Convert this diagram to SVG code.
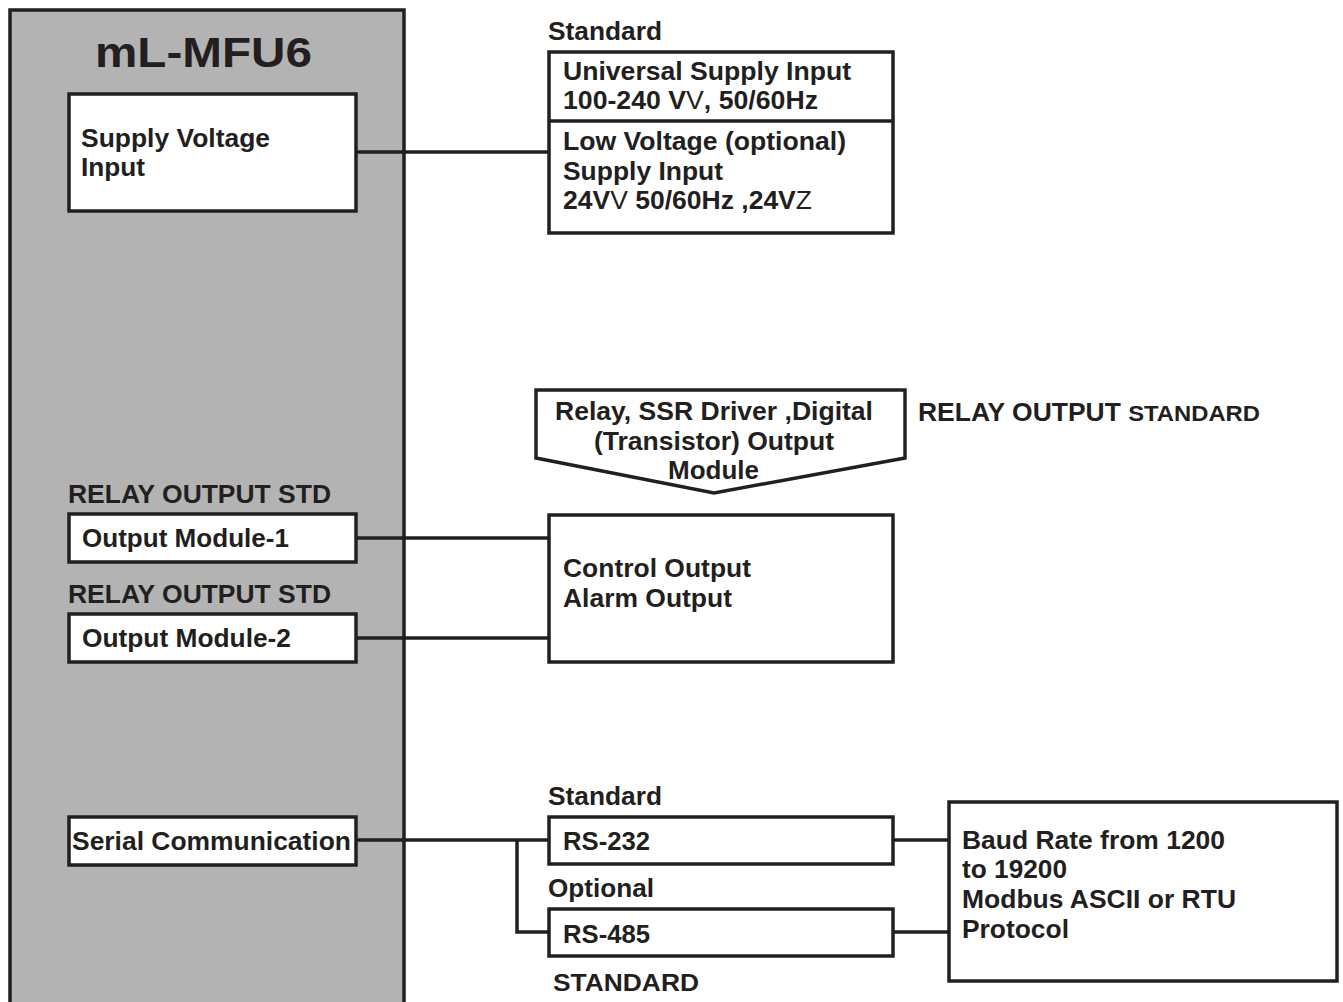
<svg xmlns="http://www.w3.org/2000/svg" width="1343" height="1002" viewBox="0 0 1343 1002">
<style>
.t{font-family:"Liberation Sans",Arial,Helvetica,sans-serif;font-weight:bold;font-size:25px;fill:#231f20}
.th{font-weight:normal}
.box{fill:#fff;stroke:#231f20;stroke-width:3.5}
.ln{fill:none;stroke:#231f20;stroke-width:3.5}
</style>
<rect width="1343" height="1002" fill="#fff"/>
<g id="device">
<rect x="10" y="10" width="394" height="1010" fill="#b3b3b3" stroke="#231f20" stroke-width="3.5"/>
<text class="t" x="95" y="67" style="font-size:43px" textLength="217" lengthAdjust="spacingAndGlyphs">mL-MFU6</text>
</g>
<g id="connectors">
<path class="ln" d="M356 152H549"/>
<path class="ln" d="M356 538H549"/>
<path class="ln" d="M356 638H549"/>
<path class="ln" d="M357 840H549M517 840V932H549"/>
<path class="ln" d="M893 840H949M893 932H949"/>
</g>
<g id="supply-voltage">
<rect class="box" x="69" y="94" width="287" height="117"/>
<text class="t" x="81" y="147" textLength="189" lengthAdjust="spacingAndGlyphs">Supply Voltage</text>
<text class="t" x="81" y="176" textLength="64" lengthAdjust="spacingAndGlyphs">Input</text>
</g>
<g id="supply-options">
<text class="t" x="548" y="40" textLength="114" lengthAdjust="spacingAndGlyphs">Standard</text>
<rect class="box" x="549" y="52" width="344" height="181"/>
<path class="ln" d="M549 121H893"/>
<text class="t" x="563" y="80" textLength="288" lengthAdjust="spacingAndGlyphs">Universal Supply Input</text>
<text class="t" x="563" y="109" textLength="255" lengthAdjust="spacingAndGlyphs">100-240 V<tspan class="th">V</tspan>, 50/60Hz</text>
<text class="t" x="563" y="150" textLength="283" lengthAdjust="spacingAndGlyphs">Low Voltage (optional)</text>
<text class="t" x="563" y="180" textLength="160" lengthAdjust="spacingAndGlyphs">Supply Input</text>
<text class="t" x="563" y="209" textLength="249" lengthAdjust="spacingAndGlyphs">24V<tspan class="th">V</tspan> 50/60Hz ,24V<tspan class="th">Z</tspan></text>
</g>
<g id="output-module-type">
<polygon class="box" points="536,390 905,390 905,458 714,493 536,458"/>
<text class="t" x="555" y="420" textLength="318" lengthAdjust="spacingAndGlyphs">Relay, SSR Driver ,Digital</text>
<text class="t" x="594" y="450" textLength="240" lengthAdjust="spacingAndGlyphs">(Transistor) Output</text>
<text class="t" x="668" y="479" textLength="91" lengthAdjust="spacingAndGlyphs">Module</text>
</g>
<g id="relay-standard-label">
<text class="t" x="918" y="421" textLength="342" lengthAdjust="spacingAndGlyphs">RELAY OUTPUT <tspan style="font-size:22.5px">STANDARD</tspan></text>
</g>
<g id="output-module-1">
<text class="t" x="68" y="503" textLength="263" lengthAdjust="spacingAndGlyphs">RELAY OUTPUT STD</text>
<rect class="box" x="69" y="514" width="287" height="48"/>
<text class="t" x="82" y="547" textLength="207" lengthAdjust="spacingAndGlyphs">Output Module-1</text>
</g>
<g id="output-module-2">
<text class="t" x="68" y="603" textLength="263" lengthAdjust="spacingAndGlyphs">RELAY OUTPUT STD</text>
<rect class="box" x="69" y="614" width="287" height="48"/>
<text class="t" x="82" y="647" textLength="209" lengthAdjust="spacingAndGlyphs">Output Module-2</text>
</g>
<g id="control-output">
<rect class="box" x="549" y="515" width="344" height="147"/>
<text class="t" x="563" y="577" textLength="188" lengthAdjust="spacingAndGlyphs">Control Output</text>
<text class="t" x="563" y="607" textLength="169" lengthAdjust="spacingAndGlyphs">Alarm Output</text>
</g>
<g id="serial-communication">
<rect class="box" x="69" y="817" width="287" height="48"/>
<text class="t" x="72" y="850" textLength="279" lengthAdjust="spacingAndGlyphs">Serial Communication</text>
</g>
<g id="rs232">
<text class="t" x="548" y="805" textLength="114" lengthAdjust="spacingAndGlyphs">Standard</text>
<rect class="box" x="549" y="817" width="344" height="47"/>
<text class="t" x="563" y="850" textLength="87" lengthAdjust="spacingAndGlyphs">RS-232</text>
</g>
<g id="rs485">
<text class="t" x="548" y="897" textLength="106" lengthAdjust="spacingAndGlyphs">Optional</text>
<rect class="box" x="549" y="909" width="344" height="47"/>
<text class="t" x="563" y="943" textLength="87" lengthAdjust="spacingAndGlyphs">RS-485</text>
<text class="t" x="553" y="991" style="font-size:23px" textLength="146" lengthAdjust="spacingAndGlyphs">STANDARD</text>
</g>
<g id="protocol">
<rect class="box" x="949" y="802" width="388" height="179"/>
<text class="t" x="962" y="849" textLength="263" lengthAdjust="spacingAndGlyphs">Baud Rate from 1200</text>
<text class="t" x="962" y="878" textLength="105" lengthAdjust="spacingAndGlyphs">to 19200</text>
<text class="t" x="962" y="908" textLength="274" lengthAdjust="spacingAndGlyphs">Modbus ASCII or RTU</text>
<text class="t" x="962" y="938" textLength="107" lengthAdjust="spacingAndGlyphs">Protocol</text>
</g>
</svg>
